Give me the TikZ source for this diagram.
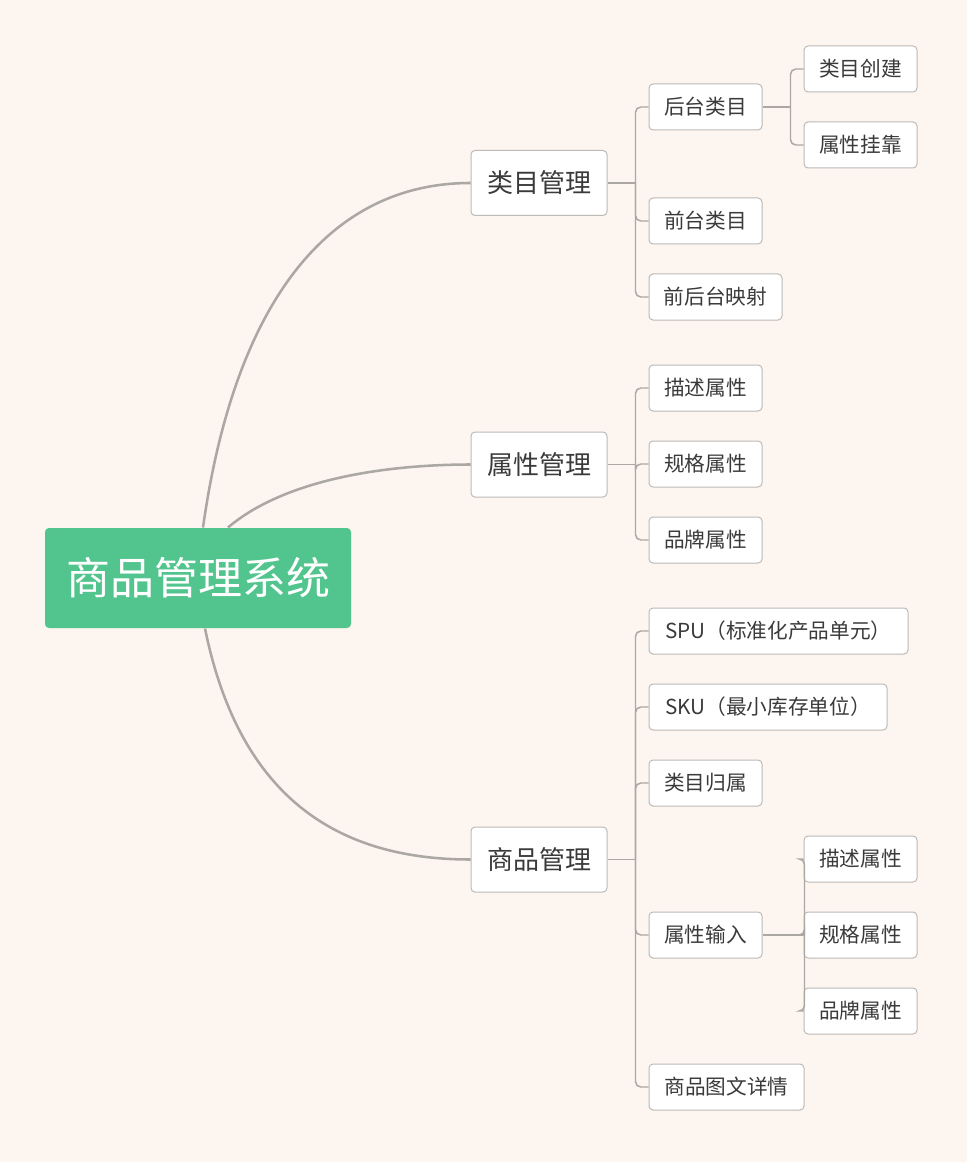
\documentclass[tikz,border=0pt]{standalone}
\usepackage{fontspec}
\setmainfont{Noto Sans CJK SC}
\usetikzlibrary{calc}
\definecolor{bg}{HTML}{FCF5F0}
\definecolor{rootg}{HTML}{52C48D}
\definecolor{lnc}{HTML}{ABA7A3}
\definecolor{bdc}{HTML}{BDBAB7}
\definecolor{txc}{HTML}{3A3A3A}
\begin{document}
\begin{tikzpicture}[x=0.75pt,y=-0.75pt,
  box/.style={draw=bdc,fill=white,rounded corners=3pt,line width=0.75pt,text=txc,inner sep=0pt,anchor=center},
  lone/.style={box,minimum width=102pt,minimum height=48.75pt,font=\fontsize{19.5pt}{22pt}\selectfont},
  ltwo/.style={box,minimum height=34.5pt,font=\fontsize{15.5pt}{18pt}\selectfont},
  curv/.style={draw=lnc,line width=1.9pt},
  conn/.style={draw=lnc,line width=1.1pt},
  br/.style={conn,rounded corners=4pt}]
\fill[bg] (0,0) rectangle (967,1162);
\useasboundingbox (0,0) rectangle (967,1162);
\node[box,draw=none,fill=rootg,text=white,minimum width=229.5pt,minimum height=75pt,font=\fontsize{33pt}{38pt}\selectfont] (root) at (198,578) {商品管理系统};
\node[lone] (c1) at (539,183) {类目管理};
\node[lone] (c2) at (539,464.5) {属性管理};
\node[lone] (c3) at (539,859.5) {商品管理};
% level 2
\node[ltwo,minimum width=84.75pt] (a1) at (705.5,107) {后台类目};
\node[ltwo,minimum width=84.75pt] (a2) at (705.5,221) {前台类目};
\node[ltwo,minimum width=99.75pt] (a3) at (715.5,297) {前后台映射};
\node[ltwo,minimum width=84.75pt] (b1) at (705.5,388) {描述属性};
\node[ltwo,minimum width=84.75pt] (b2) at (705.5,464) {规格属性};
\node[ltwo,minimum width=84.75pt] (b3) at (705.5,540) {品牌属性};
\node[ltwo,minimum width=194.25pt] (d1) at (778.5,631) {SPU（标准化产品单元）};
\node[ltwo,minimum width=178.5pt] (d2) at (768,707) {SKU（最小库存单位）};
\node[ltwo,minimum width=84.75pt] (d3) at (705.5,783) {类目归属};
\node[ltwo,minimum width=84.75pt] (d4) at (705.5,935) {属性输入};
\node[ltwo,minimum width=116.25pt] (d5) at (726.5,1087) {商品图文详情};
% level 3
\node[ltwo,minimum width=84.75pt] (e1) at (860.5,69) {类目创建};
\node[ltwo,minimum width=84.75pt] (e2) at (860.5,145) {属性挂靠};
\node[ltwo,minimum width=84.75pt] (f1) at (860.5,859) {描述属性};
\node[ltwo,minimum width=84.75pt] (f2) at (860.5,935) {规格属性};
\node[ltwo,minimum width=84.75pt] (f3) at (860.5,1011) {品牌属性};
% root curves
\draw[curv] ($(root.north)+(5,0)$) .. controls (235,300) and (330,183) .. (c1.west);
\draw[curv] ($(root.north)+(30,0)$) .. controls (290,475) and (400,464.5) .. (c2.west);
\draw[curv] ($(root.south)+(7,0)$) .. controls (240,800) and (340,859.5) .. (c3.west);
% brackets
\draw[conn] (c1.east) -- ++(28,0) coordinate (t1);
\foreach \c in {a1,a2,a3} \draw[br] (t1) |- (\c.west);
\draw[conn] (c2.east) -- ++(28,0) coordinate (t2);
\foreach \c in {b1,b2,b3} \draw[br] (t2) |- (\c.west);
\draw[conn] (c3.east) -- ++(28,0) coordinate (t3);
\foreach \c in {d1,d2,d3,d4,d5} \draw[br] (t3) |- (\c.west);
\draw[conn] (a1.east) -- ++(28,0) coordinate (t4);
\foreach \c in {e1,e2} \draw[br] (t4) |- (\c.west);
\draw[conn] (d4.east) -- ++(42,0) coordinate (t5);
\foreach \c in {f1,f2,f3} \draw[br] (t5) |- (\c.west);
\end{tikzpicture}
\end{document}
